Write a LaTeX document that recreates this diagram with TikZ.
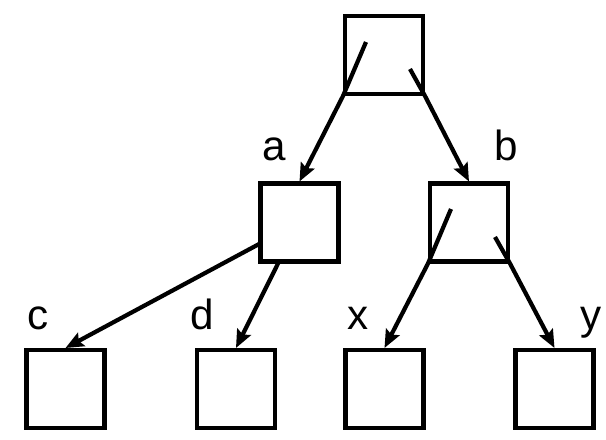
\documentclass[tikz,border=0pt]{standalone}
\usepackage{fontspec}
\setmainfont{Liberation Sans}
\usetikzlibrary{arrows.meta, positioning}

\begin{document}
\begin{tikzpicture}[
    x=0.02cm, y=-0.02cm,
    box/.style={draw, line width=2.3pt, minimum size=1.56cm, inner sep=0pt},
    lbl/.style={anchor=base, inner sep=0pt, font=\fontsize{24}{28}\selectfont},
    edge/.style={line width=2.4pt, -{Stealth[length=0.36cm, width=0.3cm, inset=0.06cm]}}
]
\useasboundingbox (0,0) rectangle (606,440);

% Boxes
\node[box] (boxR) at (384, 55) {};
\node[box] (boxA) at (299.5, 222.5) {};
\node[box] (boxB) at (469, 222.5) {};
\node[box] (boxC) at (65.5, 389) {};
\node[box] (boxD) at (236, 389) {};
\node[box] (boxX) at (384.5, 389) {};
\node[box] (boxY) at (554.5, 389) {};

% Labels
\node[lbl] (labA) at (274.5, 160) {a};
\node[lbl] (labB) at (506, 160) {b};
\node[lbl] (labC) at (38, 329) {c};
\node[lbl] (labD) at (202.5, 329) {d};
\node[lbl] (labX) at (358, 329) {x};
\node[lbl] (labY) at (591, 329) {y};

% Pointer starts
\coordinate (rootL) at (366, 42);
\coordinate (rootR) at (410, 69);
\coordinate (bL) at (451, 209);
\coordinate (bR) at (495, 237);
\coordinate (aC) at (261, 243);
\coordinate (aD) at (279, 261.5);

% Pointers
\draw[edge] (rootL) -- (boxR.south west) -- (boxA.north);
\draw[edge] (rootR) -- (boxR.south east) -- (boxB.north);
\draw[edge] (aC) -- (boxC.north);
\draw[edge] (aD) -- (boxD.north);
\draw[edge] (bL) -- (boxB.south west) -- (boxX.north);
\draw[edge] (bR) -- (boxB.south east) -- (boxY.north);

\end{tikzpicture}
\end{document}
